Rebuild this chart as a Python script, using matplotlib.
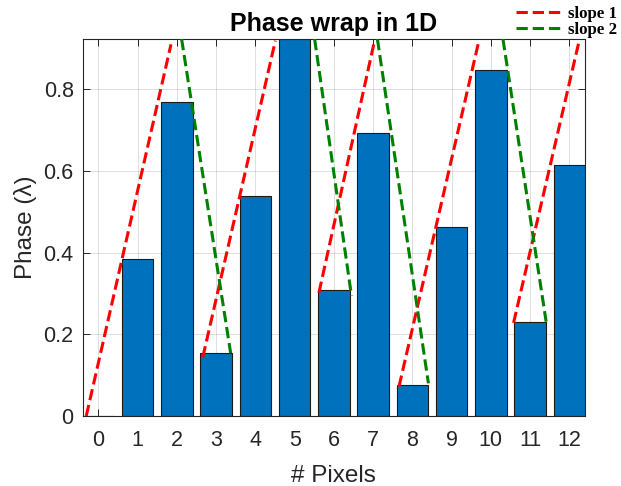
import matplotlib
matplotlib.use("Agg")
import matplotlib.pyplot as plt

plt.rcParams['font.family'] = ['Liberation Sans', 'DejaVu Sans']

# Data
pixels = [0, 1, 2, 3, 4, 5, 6, 7, 8, 9, 10, 11, 12]
phase = [0.0, 0.385, 0.769, 0.154, 0.538, 0.923, 0.308, 0.692, 0.077, 0.462, 0.846, 0.231, 0.615]

red_x0 = [-0.31, 2.66, 5.62, 7.66, 10.58]
red_y0 = [0.0, 0.144, 0.302, 0.072, 0.228]
red_x1 = [1.85, 4.51, 7.04, 9.70, 12.26]
red_y1 = [0.91, 0.919, 0.92, 0.92, 0.922]

green_x0 = [2.12, 5.51, 7.11, 10.31]
green_y0 = [0.923, 0.923, 0.923, 0.923]
green_x1 = [3.37, 6.45, 8.41, 11.41]
green_y1 = [0.154, 0.294, 0.080, 0.231]

fig = plt.figure(figsize=(6.21, 4.86), dpi=100)
ax = fig.add_axes([0.1332, 0.144, 0.942 - 0.1332, 0.9198 - 0.144])

gray = '#262626'
ax.bar(pixels, phase, width=0.8, color='#0072BD', edgecolor='#1a1a1a', linewidth=0.8, zorder=2)

for i in range(len(red_x0)):
    ax.plot([red_x0[i], red_x1[i]], [red_y0[i], red_y1[i]], '--', color='#FF0000',
            lw=2.2, zorder=3, label='slope 1' if i == 0 else None)
for i in range(len(green_x0)):
    ax.plot([green_x0[i], green_x1[i]], [green_y0[i], green_y1[i]], '--', color='#008000',
            lw=2.2, zorder=3, label='slope 2' if i == 0 else None)

ax.set_xlim(-0.4, 12.4)
ax.set_ylim(0, 12 / 13)
ax.set_xticks(pixels)
ax.set_yticks([0, 0.2, 0.4, 0.6, 0.8])
ax.set_yticklabels(['0', '0.2', '0.4', '0.6', '0.8'])
ax.set_axisbelow(True)
ax.grid(True, color='#262626', alpha=0.15, linewidth=0.7)

ax.tick_params(direction='in', length=5, width=0.7, colors=gray, labelsize=15.5,
               top=True, right=True)
ax.tick_params(axis='x', pad=10)
ax.tick_params(axis='y', pad=6.5)
for s in ax.spines.values():
    s.set_color(gray)
    s.set_linewidth(0.8)

ax.set_title('Phase wrap in 1D', fontsize=18, fontweight='bold', color='black', pad=6)
ax.set_xlabel('# Pixels', fontsize=17.5, color=gray, labelpad=10)
ax.set_ylabel('Phase (λ)', fontsize=17.5, color=gray, labelpad=5)

leg = fig.legend(loc='upper right', bbox_to_anchor=(1.0, 0.995), frameon=False,
                 prop={'family': 'Liberation Serif', 'weight': 'bold', 'size': 12.2},
                 handlelength=2.7, handletextpad=0.4, labelspacing=0.0, borderaxespad=0.1,
                 borderpad=0.1)

fig.savefig('out.png', dpi=100)
